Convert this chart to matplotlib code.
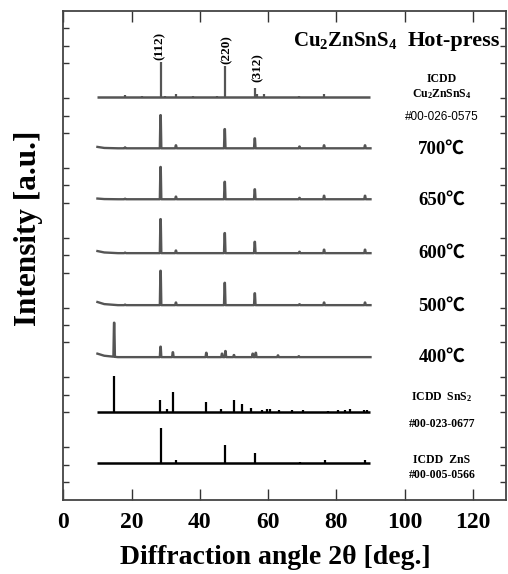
import matplotlib
matplotlib.use('Agg')
import matplotlib.pyplot as plt
import numpy as np

plt.rcParams['font.family'] = ['Liberation Serif', 'DejaVu Serif']
plt.rcParams['font.weight'] = 'bold'
plt.rcParams['mathtext.fontset'] = 'custom'
plt.rcParams['mathtext.rm'] = 'Liberation Serif:bold'
plt.rcParams['mathtext.bf'] = 'Liberation Serif:bold'
plt.rcParams['mathtext.it'] = 'Liberation Serif:bold'

# ---------------- data ----------------
scan_range = [10, 90]

# reference patterns (stick positions [deg], relative intensities)
czts_pos = [18.2, 23.1, 28.5, 29.7, 33.0, 37.9, 44.9, 47.3, 56.1, 56.8, 58.9, 69.2, 76.4]
czts_int = [0.15, 0.05, 2.05, 0.05, 0.20, 0.08, 0.06, 1.80, 0.55, 0.20, 0.22, 0.06, 0.22]

sns2_pos = [15.0, 28.2, 30.3, 32.1, 41.9, 46.1, 50.0, 52.4, 54.9, 58.3, 59.6, 60.7,
            63.1, 67.1, 70.3, 77.5, 80.5, 82.5, 84.0, 88.1, 88.9]
sns2_int = [2.05, 0.68, 0.15, 1.15, 0.57, 0.17, 0.68, 0.45, 0.25, 0.10, 0.17, 0.15,
            0.12, 0.12, 0.12, 0.08, 0.10, 0.12, 0.17, 0.14, 0.10]

zns_pos = [28.5, 33.0, 47.5, 56.3, 59.1, 69.4, 76.8, 88.5]
zns_int = [2.00, 0.19, 1.05, 0.60, 0.03, 0.08, 0.17, 0.17]

# measured patterns (peak positions, heights) and background
kest_pos = [18.1, 28.5, 33.0, 47.3, 56.1, 69.2, 76.4, 88.4]
int_700 = [0.05, 1.90, 0.17, 1.10, 0.57, 0.10, 0.17, 0.17]
int_650 = [0.03, 1.85, 0.15, 1.00, 0.57, 0.08, 0.20, 0.20]
int_600 = [0.03, 1.95, 0.15, 1.15, 0.65, 0.08, 0.20, 0.20]
int_500 = [0.03, 1.97, 0.15, 1.28, 0.68, 0.05, 0.15, 0.15]
pos_400 = [14.9, 28.5, 32.1, 41.9, 46.5, 47.5, 50.0, 55.5, 56.4, 62.9, 69.0]
int_400 = [1.95, 0.60, 0.28, 0.25, 0.20, 0.35, 0.12, 0.20, 0.25, 0.10, 0.05]

bg_x = [10, 12, 16, 90]
bg_700 = [0.08, 0.02, 0.0, 0.0]
bg_650 = [0.04, 0.01, 0.0, 0.0]
bg_600 = [0.12, 0.04, 0.0, 0.0]
bg_500 = [0.18, 0.06, 0.0, 0.0]
bg_400 = [0.20, 0.08, 0.0, 0.0]

# vertical offsets of each pattern
off_zns, off_sns2, off_400, off_500, off_600, off_650, off_700, off_czts = \
    2.09, 5.01, 8.16, 11.14, 14.12, 17.21, 20.13, 23.05

temps = ['700℃', '650℃', '600℃', '500℃', '400℃']

x_ticks = [0, 20, 40, 60, 80, 100, 120]
y_ticks = [k for k in range(1, 28) if k % 4 != 0]

GRAY = '#555555'


def measured_line(pos, hts, bgv, half=0.22):
    xs = list(bg_x)
    ys = list(bgv)
    for p, h in zip(pos, hts):
        b = float(np.interp(p, bg_x, bgv))
        xs += [p - half, p - 0.05, p + 0.05, p + half]
        ys += [float(np.interp(p - half, bg_x, bgv)), b + h, b + h,
               float(np.interp(p + half, bg_x, bgv))]
    order = np.argsort(xs, kind='stable')
    return np.array(xs)[order], np.array(ys)[order]


fig = plt.figure(figsize=(5.08, 5.74), dpi=100)
ax = fig.add_axes([63.3 / 508, 1 - 499.5 / 574, (506 - 63.3) / 508, (499.5 - 11) / 574])

# stick patterns
def sticks(pos, hts, off, color):
    ax.hlines(off, scan_range[0], scan_range[1], color=color, lw=1.8)
    ax.vlines(pos, off, np.array(hts) + off, color=color, lw=1.6)

sticks(czts_pos, czts_int, off_czts, GRAY)
sticks(sns2_pos, sns2_int, off_sns2, 'black')
sticks(zns_pos, zns_int, off_zns, 'black')

for pos, hts, bgv, off in [(kest_pos, int_700, bg_700, off_700),
                           (kest_pos, int_650, bg_650, off_650),
                           (kest_pos, int_600, bg_600, off_600),
                           (kest_pos, int_500, bg_500, off_500),
                           (pos_400, int_400, bg_400, off_400)]:
    xs, ys = measured_line(pos, hts, bgv)
    ax.plot(xs, ys + off, color=GRAY, lw=1.7)

ax.set_xlim(0, 129.7)
ax.set_ylim(0, 28)
ax.set_xticks(x_ticks)
ax.set_xticklabels([str(t) for t in x_ticks], fontsize=17, fontweight='bold')
ax.set_yticks(y_ticks)
ax.set_yticklabels([])
ax.tick_params(axis='x', direction='in', length=8, width=1.0, top=True, pad=9, color='#333333')
ax.tick_params(axis='y', direction='in', length=4, width=1.0, right=True, color='#333333')
for s in ax.spines.values():
    s.set_color('#444444')
    s.set_linewidth(1.3)

# peak labels
for lab, xp, yp in [('(112)', 28.3, 26.0), ('(220)', 48.0, 25.8), ('(312)', 57.0, 24.77)]:
    ax.text(xp, yp, lab, rotation=90, ha='center', va='center', fontsize=9.5, fontweight='bold')

# title
ax.text(67.2, 26.0, r'$\mathbf{Cu_2ZnSnS_4}$', ha='left', va='baseline', fontsize=15)
ax.text(128.0, 26.0, 'Hot-press', ha='right', va='baseline', fontsize=16, fontweight='bold')

lx = 110.9
small = 8.5
ax.text(lx, 24.08, 'ICDD', ha='center', va='center', fontsize=small, fontweight='bold')
ax.text(lx, 23.22, r'$\mathbf{Cu_2ZnSnS_4}$', ha='center', va='center', fontsize=small)
ax.text(lx, 21.9, '#00-026-0575', ha='center', va='center', fontsize=small,
        family=['Liberation Sans', 'DejaVu Sans'], fontweight='normal')

for t, yy in zip(temps, [20.07, 17.15, 14.12, 11.08, 8.16]):
    ax.text(lx, yy, t, ha='center', va='center', fontsize=13.5, fontweight='bold',
            family=['Liberation Serif', 'Noto Sans CJK JP', 'DejaVu Sans'])

ax.text(lx, 5.87, r'ICDD  SnS$_2$', ha='center', va='center', fontsize=small, fontweight='bold')
ax.text(lx, 4.32, '#00-023-0677', ha='center', va='center', fontsize=small, fontweight='bold')
ax.text(lx, 2.26, 'ICDD  ZnS', ha='center', va='center', fontsize=small, fontweight='bold')
ax.text(lx, 1.40, '#00-005-0566', ha='center', va='center', fontsize=small, fontweight='bold')

fig.text(29 / 508, 1 - 228 / 574, 'Intensity [a.u.]', rotation=90, ha='center', va='center',
         fontsize=22.5, fontweight='bold')
fig.text(275 / 508, 1 - 558 / 574, 'Diffraction angle 2θ [deg.]', ha='center', va='center',
         fontsize=20, fontweight='bold')

fig.savefig('out.png', dpi=100)
